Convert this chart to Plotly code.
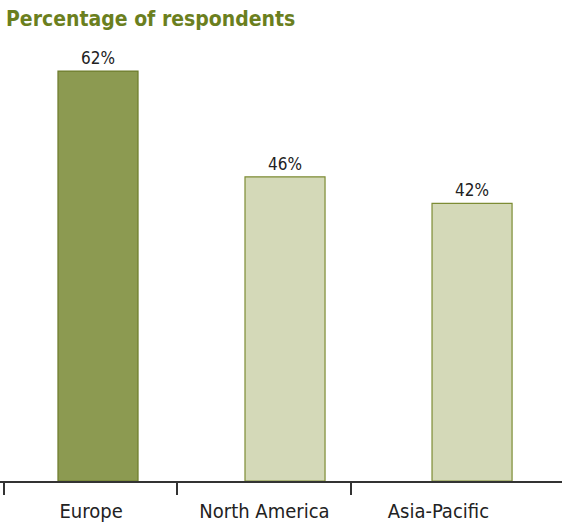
import plotly.graph_objects as go

categories = ["Europe", "North America", "Asia-Pacific"]
values = [62, 46, 42]
value_labels = ["62%", "46%", "42%"]
bar_fill = ["#8c9a51", "#d4d9b8", "#d4d9b8"]
bar_line = ["#6d7c2c", "#7d8c34", "#7d8c34"]

FONT = "Liberation Sans Narrow, DejaVu Sans Condensed, Arial Narrow, sans-serif"

# bar positions (numeric), label positions and tick boundaries (same scale)
bar_x = [0, 1, 2]
label_x = [-0.037, 0.89, 1.82]
tick_x = [-0.503, 0.422, 1.353]
x_range = [-0.524, 2.481]

fig = go.Figure()
fig.add_trace(go.Bar(
    x=bar_x, y=values, width=0.428,
    marker=dict(color=bar_fill, line=dict(color=bar_line, width=1.2)),
    text=value_labels, textposition="outside", cliponaxis=False,
    textfont=dict(family=FONT, size=17, color="#222222"),
    hoverinfo="skip", showlegend=False,
))
# invisible trace on xaxis2 to make it render tick marks
fig.add_trace(go.Scatter(x=[None], y=[None], xaxis="x2", showlegend=False))

fig.update_layout(
    width=562, height=527,
    margin=dict(l=0, r=0, t=40, b=46),
    plot_bgcolor="white", paper_bgcolor="white",
    bargap=0,
    title=dict(text="<b>Percentage of respondents</b>", xref="container", x=6/562,
               xanchor="left", yref="container", y=1-19/527, yanchor="middle",
               font=dict(family=FONT, size=21, color="#6b7f1e")),
    xaxis=dict(range=x_range, tickmode="array", tickvals=label_x, ticktext=categories,
               ticks="", showgrid=False, zeroline=False, showline=False,
               tickfont=dict(family=FONT, size=20, color="#222222"), ticklabelstandoff=16),
    xaxis2=dict(range=x_range, overlaying="x", anchor="y", side="bottom",
                tickmode="array", tickvals=tick_x, showticklabels=False,
                ticks="outside", ticklen=12, tickwidth=1.5, tickcolor="#333333",
                showline=True, linecolor="#333333", linewidth=1.5,
                showgrid=False, zeroline=False),
    yaxis=dict(range=[0, 66.7], visible=False, showgrid=False, zeroline=False),
)

fig.write_html("out.html", config={"displayModeBar": False, "staticPlot": True},
               post_script="document.body.style.margin='0px';document.body.style.overflow='hidden';")
